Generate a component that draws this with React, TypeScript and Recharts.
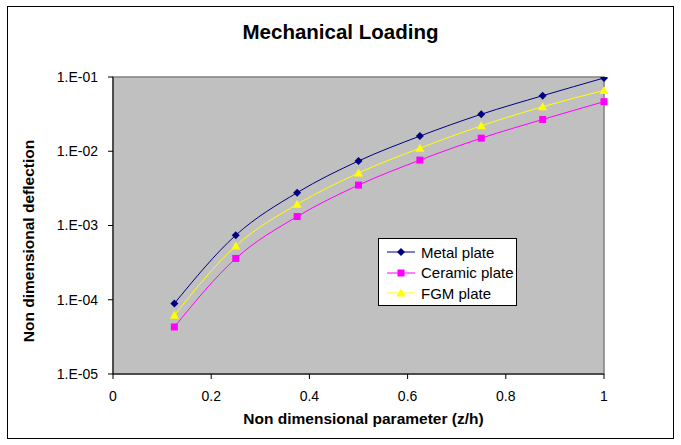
import React from "react";
import {
  Line,
  LineChart,
  ReferenceArea,
  XAxis,
  YAxis,
} from "recharts";

const positions = [0.125, 0.25, 0.375, 0.5, 0.625, 0.75, 0.875, 1];
const metalPlate = [8.9e-5, 7.4e-4, 2.77e-3, 7.4e-3, 1.6e-2, 3.15e-2, 5.6e-2, 9.7e-2];
const ceramicPlate = [4.3e-5, 3.6e-4, 1.32e-3, 3.5e-3, 7.6e-3, 1.5e-2, 2.68e-2, 4.65e-2];
const fgmPlate = [6.2e-5, 5.3e-4, 1.93e-3, 5.1e-3, 1.1e-2, 2.2e-2, 3.98e-2, 6.6e-2];

const xTicks = [0, 0.2, 0.4, 0.6, 0.8, 1];
const yTicks = [1e-5, 1e-4, 1e-3, 1e-2, 1e-1];

const series = [
  { key: "metal", name: "Metal plate", color: "#000080", shape: "diamond" },
  { key: "ceramic", name: "Ceramic plate", color: "#FF00FF", shape: "square" },
  { key: "fgm", name: "FGM plate", color: "#FFFF00", shape: "triangle" },
];

const data = positions.map((x, i) => ({
  x,
  metal: metalPlate[i],
  ceramic: ceramicPlate[i],
  fgm: fgmPlate[i],
}));

const FONT = "'Liberation Sans', Arial, sans-serif";

function Marker({ cx, cy, shape, color }: any) {
  if (cx == null || cy == null) return null;
  if (shape === "diamond") {
    return (
      <polygon
        points={`${cx},${cy - 4} ${cx + 4},${cy} ${cx},${cy + 4} ${cx - 4},${cy}`}
        fill={color}
      />
    );
  }
  if (shape === "square") {
    return <rect x={cx - 3.5} y={cy - 3.5} width={7} height={7} fill={color} />;
  }
  return (
    <polygon
      points={`${cx},${cy - 4.5} ${cx + 4.5},${cy + 3.5} ${cx - 4.5},${cy + 3.5}`}
      fill={color}
    />
  );
}

function yLabel(v: number) {
  const exp = Math.round(Math.log10(v));
  return `1.E-${String(-exp).padStart(2, "0")}`;
}

function LegendBox() {
  return (
    <div
      style={{
        position: "absolute",
        left: 378,
        top: 238,
        width: 139,
        height: 68,
        background: "#fff",
        border: "1px solid #000",
        fontFamily: FONT,
        fontSize: 15,
        color: "#000",
        paddingTop: 3,
        boxSizing: "border-box",
      }}
    >
      {series.map((s) => (
        <div key={s.key} style={{ display: "flex", alignItems: "center", height: 20.5 }}>
          <svg width={42} height={12} style={{ flex: "none" }}>
            <line x1={8} y1={6} x2={36} y2={6} stroke={s.color} strokeWidth={1} />
            <Marker cx={22} cy={6} shape={s.shape} color={s.color} />
          </svg>
          <span>{s.name}</span>
        </div>
      ))}
    </div>
  );
}

export default function App() {
  return (
    <div
      style={{
        position: "absolute",
        left: 0,
        top: 0,
        width: 681,
        height: 445,
        background: "#fff",
        fontFamily: FONT,
      }}
    >
      <div
        style={{
          position: "absolute",
          left: 7,
          top: 6,
          width: 665,
          height: 431,
          border: "1px solid #000",
        }}
      />
      <div
        style={{
          position: "absolute",
          left: 0,
          width: 681,
          top: 20,
          textAlign: "center",
          fontWeight: "bold",
          fontSize: 20.5,
        }}
      >
        Mechanical Loading
      </div>
      <div
        style={{
          position: "absolute",
          left: 0,
          width: 727,
          top: 410,
          textAlign: "center",
          fontWeight: "bold",
          fontSize: 15.5,
        }}
      >
        Non dimensional parameter (z/h)
      </div>
      <div
        style={{
          position: "absolute",
          left: 29 - 150,
          top: 241 - 10,
          width: 300,
          height: 20,
          lineHeight: "20px",
          textAlign: "center",
          fontWeight: "bold",
          fontSize: 15.5,
          transform: "rotate(-90deg)",
        }}
      >
        Non dimensional deflection
      </div>
      <div style={{ position: "absolute", left: 0, top: 0 }}>
        <LineChart
          width={681}
          height={445}
          data={data}
          margin={{ top: 77, right: 77, bottom: 31, left: 53 }}
        >
          <ReferenceArea
            x1={0}
            x2={1}
            y1={1e-5}
            y2={1e-1}
            fill="#C0C0C0"
            fillOpacity={1}
            stroke="#808080"
            strokeWidth={1.5}
            ifOverflow="visible"
          />
          <XAxis
            dataKey="x"
            type="number"
            domain={[0, 1]}
            ticks={xTicks}
            height={40}
            stroke="#000"
            tickSize={5}
            tickMargin={12}
            tick={{ fill: "#000", fontSize: 14, fontFamily: FONT }}
            tickFormatter={(v: number) => String(v)}
          />
          <YAxis
            scale="log"
            domain={[1e-5, 1e-1]}
            ticks={yTicks}
            allowDataOverflow
            width={60}
            stroke="#000"
            tickSize={5}
            tickMargin={10}
            tick={{ fill: "#000", fontSize: 14, fontFamily: FONT }}
            tickFormatter={yLabel}
          />
          {series.map((s) => (
            <Line
              key={s.key}
              type="monotone"
              dataKey={s.key}
              name={s.name}
              stroke={s.color}
              strokeWidth={1}
              isAnimationActive={false}
              dot={(p: any) => (
                <Marker key={`${s.key}-${p.index}`} cx={p.cx} cy={p.cy} shape={s.shape} color={s.color} />
              )}
              activeDot={false}
            />
          ))}
        </LineChart>
      </div>
      <LegendBox />
    </div>
  );
}
